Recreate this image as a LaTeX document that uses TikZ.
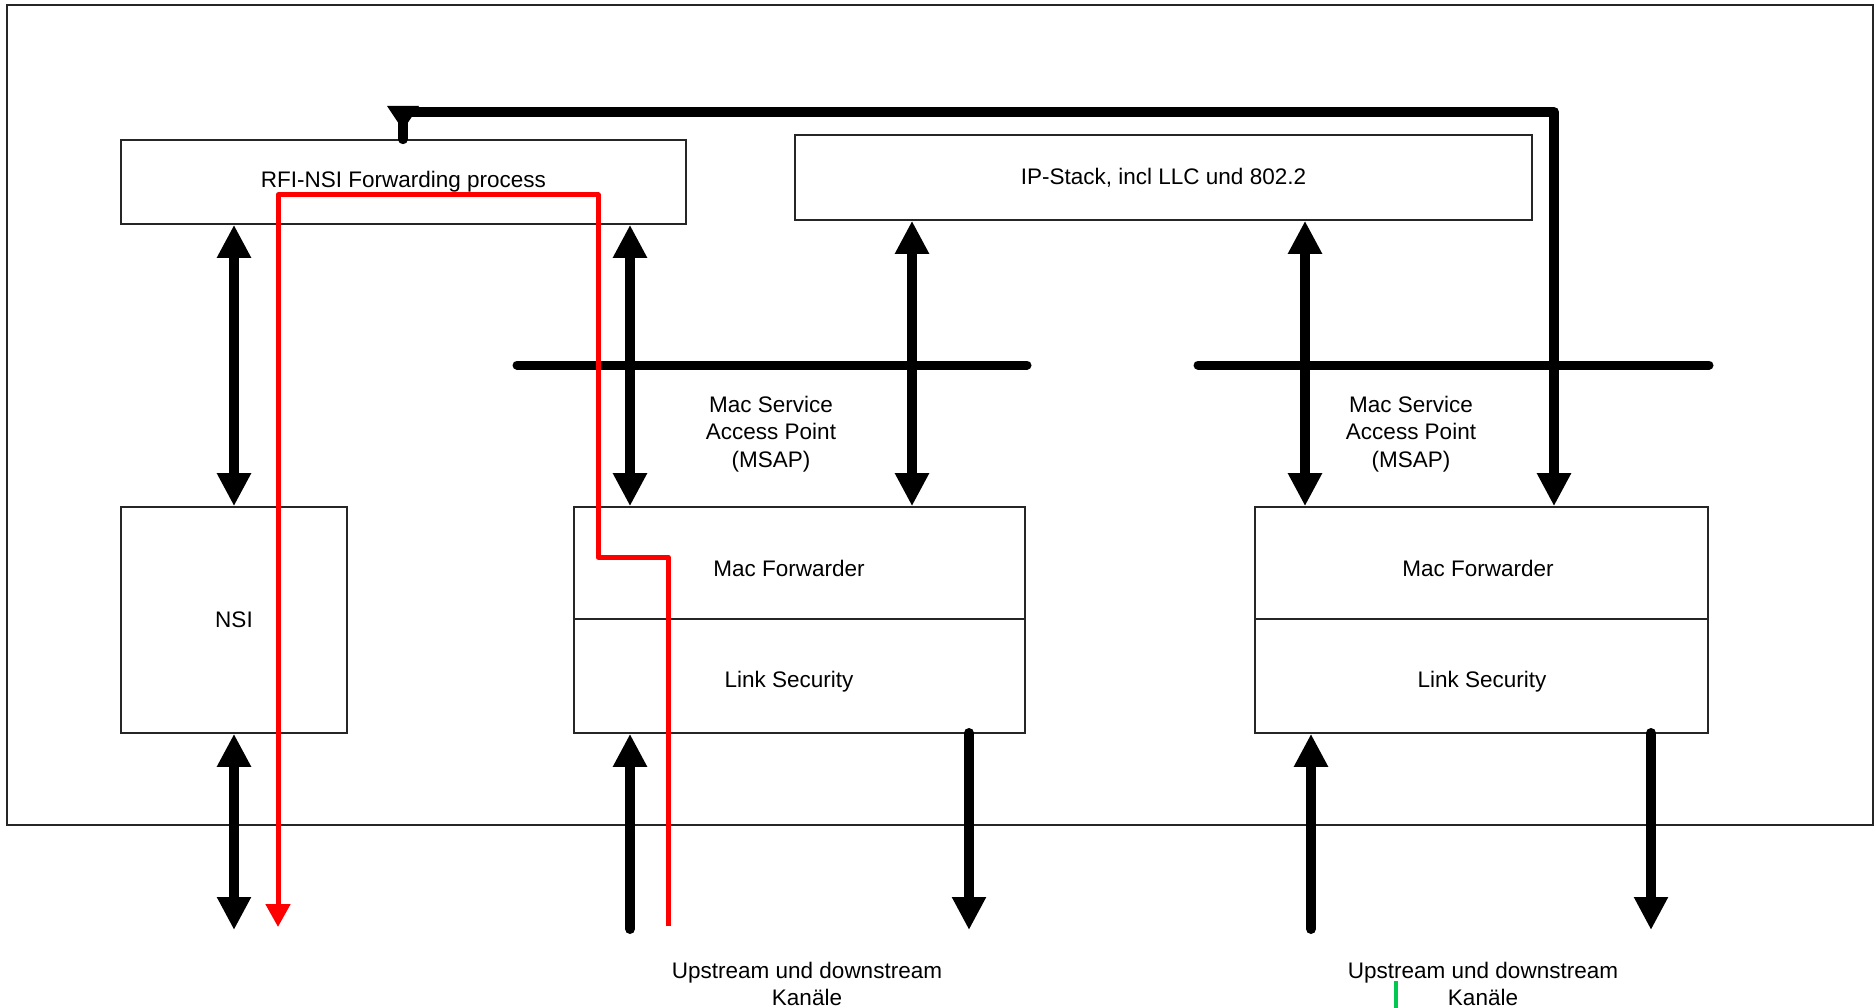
\documentclass[tikz,border=0pt]{standalone}
\usepackage{fontspec}
\setmainfont{Liberation Sans}
\usetikzlibrary{arrows.meta}
\definecolor{tickgreen}{RGB}{0,200,80}
\begin{document}
\begin{tikzpicture}[x=1pt,y=-1pt,
  box/.style={draw=black!85, line width=1.6pt, inner sep=0pt},
  txt/.style={font=\fontsize{22.5}{27.5}\selectfont, align=center, inner sep=0pt},
  flow/.style={line width=10pt, line cap=round, line join=round},
  bus/.style={line width=9pt, line cap=round},
  bigtip/.tip={Triangle[width=32pt,length=33pt]},
  dbl/.style={flow, bigtip-bigtip},
  fwd/.style={flow, -bigtip},
  redpath/.style={draw=red, line width=5pt, line join=round, -{Triangle[width=24pt,length=23pt]}}
]
\useasboundingbox (0,0) rectangle (1874,1008);
% outer frame
\draw[black!85, line width=1.6pt] (7,5) rectangle (1873,825);

% boxes
\node[box, minimum width=565pt, minimum height=84pt] (rfi) at (403.5,182) {};
\node[txt] (rfitxt) at (403.5,182) {RFI-NSI Forwarding process};
\node[box, minimum width=737pt, minimum height=85pt] (ip) at (1163.5,177.5) {};
\node[txt] (iptxt) at (1163.5,177.5) {IP-Stack, incl LLC und 802.2};
\node[box, minimum width=226pt, minimum height=226pt] (nsi) at (234,620) {};
\node[txt] (nsitxt) at (234,620) {NSI};

\node[box, minimum width=451pt, minimum height=112pt] (mfa) at (799.5,563) {};
\node[box, minimum width=451pt, minimum height=114pt] (mfb) at (799.5,676) {};
\node[txt] (mfatxt) at (789,568) {Mac Forwarder};
\node[txt] (mfbtxt) at (789,682) {Link Security};

\node[box, minimum width=453pt, minimum height=112pt] (mga) at (1481.5,563) {};
\node[box, minimum width=453pt, minimum height=114pt] (mgb) at (1481.5,676) {};
\node[txt] (mgatxt) at (1478,568) {Mac Forwarder};
\node[txt] (mgbtxt) at (1482,682) {Link Security};

% MSAP labels
\node[txt] (msap1) at (771,434) {Mac Service\\Access Point\\(MSAP)};
\node[txt] (msap2) at (1411,434) {Mac Service\\Access Point\\(MSAP)};

% bottom labels
\node[txt] (ch1) at (807,984) {Upstream und downstream\\Kanäle};
\node[txt] (ch2) at (1483,984) {Upstream und downstream\\Kanäle};

% x positions
\coordinate (xa) at (234,0);
\coordinate (xb) at (630,0);
\coordinate (xc) at (912,0);
\coordinate (xd) at (1305,0);
\coordinate (xe) at (1554,0);
\coordinate (xf) at (969,0);
\coordinate (xg) at (1311,0);
\coordinate (xh) at (1651,0);
\coordinate (xt) at (403,0);
\coordinate (ybot) at (0,930);
\coordinate (ytop) at (0,112);

% bus bars
\coordinate (b1l) at (517,365);
\coordinate (b1r) at (1027,365);
\coordinate (b2l) at (1198,365);
\coordinate (b2r) at (1709,365);
\draw[bus] (b1l) -- (b1r);
\draw[bus] (b2l) -- (b2r);

% vertical arrows between layers
\draw[dbl] (xa |- rfi.south) -- (xa |- nsi.north);
\draw[dbl] (xb |- rfi.south) -- (xb |- mfa.north);
\draw[dbl] (xc |- ip.south) -- (xc |- mfa.north);
\draw[dbl] (xd |- ip.south) -- (xd |- mga.north);

% feedback from RFI to MF2
\draw[fwd] (xt |- rfi.north) -- (xt |- ytop) -- (xe |- ytop) -- (xe |- mga.north);
\fill (387,106) -- (419,106) -- (403,130) -- cycle;

% lower arrows
\draw[dbl] (xa |- nsi.south) -- (xa |- ybot);
\draw[fwd] (630,929) -- (xb |- mfb.south);
\draw[fwd] (969,733) -- (xf |- ybot);
\draw[fwd] (1311,929) -- (xg |- mgb.south);
\draw[fwd] (1651,733) -- (xh |- ybot);

% red path
\coordinate (r0) at (668,926);
\coordinate (r1) at (668,557);
\coordinate (r2) at (598,557);
\coordinate (r3) at (598,195);
\coordinate (r4) at (278,195);
\coordinate (r5) at (278,927);
\draw[redpath] (r0) -- (r1) -- (r2) -- (r3) -- (r4) -- (r5);

% green tick
\draw[tickgreen, line width=4pt] (1396,981) -- (1396,1008);
\end{tikzpicture}
\end{document}
